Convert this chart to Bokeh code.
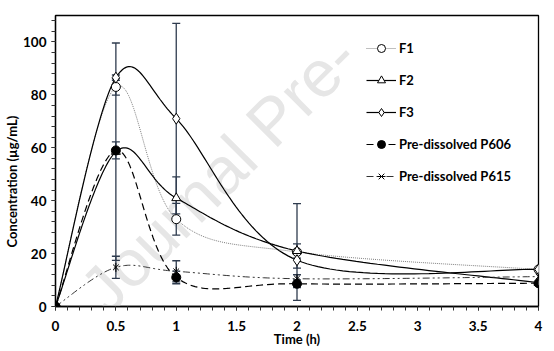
import numpy as np
from bokeh.plotting import figure
from bokeh.models import (Range1d, SingleIntervalTicker, NumeralTickFormatter,
                          Legend, LegendItem, Label, Title)
from bokeh.embed import file_html
from bokeh.resources import INLINE

# ---------------- data ----------------
time_h = [0, 0.5, 1, 2, 4]

f1 = [0, 83.0, 33.0, 20.6, 14.0]
f1_err = [0, 3.1, 6.0, 18.3, 0]
f2 = [0, 58.5, 41.0, 21.0, 9.0]
f2_err = [0, 41.1, 8.0, 2.7, 0]
f3 = [0, 86.5, 71.0, 17.5, 14.0]
f3_err = [0, 1.0, 36.0, 3.0, 0]
p606 = [0, 59.0, 11.0, 8.6, 8.8]
p606_err = [0, 3.2, 2.4, 1.5, 0]
p615 = [0, 14.8, 13.3, 10.5, 11.3]
p615_err = [0, 4.2, 4.0, 1.5, 0]

series_names = ["F1", "F2", "F3", "Pre-dissolved P606", "Pre-dissolved P615"]
x_label = "Time (h)"
y_label = "Concentration (µg/mL)"
watermark = "Journal Pre-"

FONT = "Lato"


def excel_smooth(xs, ys, n=40):
    xs = np.asarray(xs, float)
    ys = np.asarray(ys, float)
    m = len(xs)
    px, py = [], []
    t = np.linspace(0, 1, n)
    for i in range(m - 1):
        i0 = max(i - 1, 0)
        i3 = min(i + 2, m - 1)
        p0x, p0y = xs[i], ys[i]
        p3x, p3y = xs[i + 1], ys[i + 1]
        c1x = p0x + (xs[i + 1] - xs[i0]) / 6
        c1y = p0y + (ys[i + 1] - ys[i0]) / 6
        c2x = p3x - (xs[i3] - xs[i]) / 6
        c2y = p3y - (ys[i3] - ys[i]) / 6
        a = (1 - t) ** 3
        b = 3 * (1 - t) ** 2 * t
        c = 3 * (1 - t) * t ** 2
        d = t ** 3
        sx = a * p0x + b * c1x + c * c2x + d * p3x
        sy = a * p0y + b * c1y + c * c2y + d * p3y
        if i > 0:
            sx, sy = sx[1:], sy[1:]
        px.extend(sx)
        py.extend(sy)
    return px, py


p = figure(width=554, height=351, output_backend="svg", toolbar_location=None,
           x_range=Range1d(0, 4), y_range=Range1d(0, 110),
           min_border_left=55, min_border_right=16, min_border_top=15, min_border_bottom=45,
           styles={"outline": "1px solid #d9d9d9", "outline-offset": "-4px"})
p.background_fill_color = "white"
p.border_fill_color = "white"
p.xgrid.visible = False
p.ygrid.visible = False
p.outline_line_color = "black"
p.outline_line_width = 1.3

# watermark (kept inside the frame)
wm = Label(x=0.30, y=2.3, text=watermark, angle=45, angle_units="deg",
           text_font="Liberation Sans", text_font_size="66px", text_color="#e6e6e6",
           text_baseline="alphabetic", text_align="left", level="underlay")
p.add_layout(wm)

ERR_COLOR = "#2e3b4e"

styles = [
    dict(data=f1, err=f1_err, color="#7f7f7f", width=1.0, dash="1 1"),
    dict(data=f2, err=f2_err, color="black", width=1.2, dash="solid"),
    dict(data=f3, err=f3_err, color="black", width=1.2, dash="solid"),
    dict(data=p606, err=p606_err, color="black", width=1.2, dash="7 4"),
    dict(data=p615, err=p615_err, color="#333333", width=1.0, dash="7 3 2 3 2 3"),
]

line_renderers = []
for s in styles:
    sx, sy = excel_smooth(time_h, s["data"])
    r = p.line(sx, sy, line_color=s["color"], line_width=s["width"], line_dash=s["dash"])
    line_renderers.append(r)

# error bars
for s in styles:
    xs, lo, hi = [], [], []
    for x, v, e in zip(time_h, s["data"], s["err"]):
        if e > 0:
            xs.append(x)
            lo.append(v - e)
            hi.append(v + e)
    if xs:
        p.segment(x0=xs, y0=lo, x1=xs, y1=hi, line_color=ERR_COLOR, line_width=1.3)
        p.scatter(x=xs + xs, y=lo + hi, marker="dash", size=8, line_color=ERR_COLOR, line_width=1.3)

# markers
m_f1 = p.scatter(time_h, f1, marker="circle", size=9, fill_color="white", line_color="black", line_width=1)
m_f2 = p.scatter(time_h, f2, marker="triangle", size=9, fill_color="white", line_color="black", line_width=1)
m_f3 = p.scatter(time_h, f3, marker="diamond", size=11, fill_color="white",
                 line_color="black", line_width=1)
m_p606 = p.scatter(time_h, p606, marker="circle", size=9, fill_color="black", line_color="black")
m_p615a = p.scatter(time_h, p615, marker="x", size=8, line_color="black", line_width=1)
m_p615b = p.scatter(time_h, p615, marker="dash", size=9, angle=np.pi / 2, line_color="black", line_width=1)

items = [
    LegendItem(label=series_names[0], renderers=[line_renderers[0], m_f1]),
    LegendItem(label=series_names[1], renderers=[line_renderers[1], m_f2]),
    LegendItem(label=series_names[2], renderers=[line_renderers[2], m_f3]),
    LegendItem(label=series_names[3], renderers=[line_renderers[3], m_p606]),
    LegendItem(label=series_names[4], renderers=[line_renderers[4], m_p615a, m_p615b]),
]
legend = Legend(items=items, location=(311, 120), border_line_alpha=0,
                background_fill_alpha=0, padding=0, margin=0, spacing=12,
                glyph_width=30, glyph_height=20, label_height=20, label_standoff=3,
                label_text_font=FONT, label_text_font_style="bold", label_text_font_size="13px",
                label_text_color="black")
p.add_layout(legend, "center")

# axes
p.xaxis.ticker = SingleIntervalTicker(interval=0.5, num_minor_ticks=5)
p.xaxis.formatter = NumeralTickFormatter(format="0.[0]")
p.yaxis.ticker = SingleIntervalTicker(interval=20, num_minor_ticks=5)
for ax in (p.xaxis[0], p.yaxis[0]):
    ax.axis_line_color = "black"
    ax.axis_line_width = 1.3
    ax.major_tick_in = 0
    ax.major_tick_out = 4
    ax.minor_tick_in = 0
    ax.minor_tick_out = 4
    ax.major_tick_line_color = "#333333"
    ax.minor_tick_line_color = "#333333"
    ax.major_label_text_font = FONT
    ax.major_label_text_font_style = "bold"
    ax.major_label_text_font_size = "13.5px"
    ax.major_label_text_color = "black"

p.xaxis.major_label_standoff = 10
p.yaxis.major_label_standoff = 5
p.xaxis.axis_label = x_label
p.xaxis.axis_label_text_font = FONT
p.xaxis.axis_label_text_font_style = "bold"
p.xaxis.axis_label_text_font_size = "13px"
p.xaxis.axis_label_text_color = "black"
p.xaxis.axis_label_standoff = -3

ytitle = Title(text=y_label, align="left", offset=59, standoff=2,
               text_font=FONT, text_font_style="bold", text_font_size="13px",
               text_color="black")
p.add_layout(ytitle, "left")

open("out.html", "w").write(file_html(p, INLINE))
